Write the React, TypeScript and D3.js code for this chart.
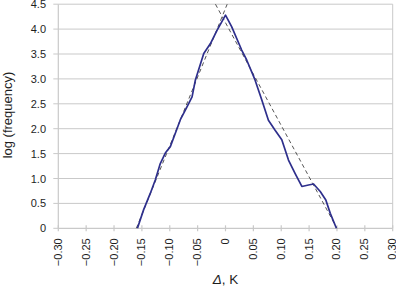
import { useEffect, useRef } from 'react';
import * as d3 from 'd3';

// measured curve: [delta (K), log frequency]
const curve: [number, number][] = [
  [-0.158, 0], [-0.147, 0.37], [-0.135, 0.70], [-0.126, 0.97], [-0.117, 1.30],
  [-0.108, 1.51], [-0.099, 1.64], [-0.090, 1.91], [-0.081, 2.18], [-0.070, 2.42],
  [-0.060, 2.64], [-0.054, 2.98], [-0.039, 3.51], [-0.027, 3.71], [-0.015, 3.98],
  [0, 4.28], [0.011, 4.05], [0.029, 3.58], [0.038, 3.38], [0.053, 2.98],
  [0.065, 2.58], [0.077, 2.17], [0.089, 1.97], [0.101, 1.78], [0.113, 1.37],
  [0.125, 1.10], [0.137, 0.84], [0.149, 0.87], [0.158, 0.89], [0.170, 0.74],
  [0.180, 0.57], [0.188, 0.30], [0.199, 0]
];
const fitLeft: [number, number][] = [[-0.16, 0], [0.003, 4.5]];
const fitRight: [number, number][] = [[-0.018, 4.5], [0.20, 0]];

const xTicks = [-0.3, -0.25, -0.2, -0.15, -0.1, -0.05, 0, 0.05, 0.1, 0.15, 0.2, 0.25, 0.3];
const yTicks = [0, 0.5, 1, 1.5, 2, 2.5, 3, 3.5, 4, 4.5];

const fmtX = (v: number) => (v === 0 ? '0' : (v < 0 ? '\u2212' : '') + Math.abs(v).toFixed(2));
const fmtY = (v: number) => (v === 0 ? '0' : v.toFixed(1));

export default function App() {
  const ref = useRef<SVGSVGElement>(null);

  useEffect(() => {
    const svg = d3.select(ref.current);
    svg.selectAll('*').remove();

    const left = 58.3, right = 392.7, top = 4.2, bottom = 228.3;
    const x = d3.scaleLinear().domain([-0.3, 0.3]).range([left, right]);
    const y = d3.scaleLinear().domain([0, 4.5]).range([bottom, top]);
    const font = 'Liberation Sans, Arial, sans-serif';
    const gridCol = '#c9c9c9';

    // horizontal gridlines
    svg.append('g').selectAll('line').data(yTicks.filter(d => d > 0)).enter().append('line')
      .attr('x1', left).attr('x2', right)
      .attr('y1', d => y(d)).attr('y2', d => y(d))
      .attr('stroke', gridCol).attr('stroke-width', 1);

    // y ticks
    svg.append('g').selectAll('line').data(yTicks).enter().append('line')
      .attr('x1', left - 5).attr('x2', left)
      .attr('y1', d => y(d)).attr('y2', d => y(d))
      .attr('stroke', gridCol).attr('stroke-width', 1);

    // left and right border lines
    svg.append('line').attr('x1', left).attr('x2', left).attr('y1', top).attr('y2', bottom)
      .attr('stroke', gridCol).attr('stroke-width', 1.2);
    svg.append('line').attr('x1', right).attr('x2', right).attr('y1', top).attr('y2', bottom)
      .attr('stroke', gridCol).attr('stroke-width', 1);

    // x axis line and ticks
    svg.append('line').attr('x1', left).attr('x2', right).attr('y1', bottom).attr('y2', bottom)
      .attr('stroke', gridCol).attr('stroke-width', 1.2);
    svg.append('g').selectAll('line').data(xTicks).enter().append('line')
      .attr('x1', d => x(d)).attr('x2', d => x(d))
      .attr('y1', bottom - 3).attr('y2', bottom + 3)
      .attr('stroke', gridCol).attr('stroke-width', 1.2);

    // y tick labels
    svg.append('g').selectAll('text').data(yTicks).enter().append('text')
      .attr('x', 46).attr('y', d => y(d) + 4)
      .attr('text-anchor', 'end')
      .style('font-family', font).style('font-size', '11px').style('fill', '#1e1e1e')
      .text(fmtY);

    // x tick labels (rotated)
    svg.append('g').selectAll('text').data(xTicks).enter().append('text')
      .attr('transform', d => `translate(${x(d) + 3.5},${bottom + 10}) rotate(-90)`)
      .attr('text-anchor', 'end')
      .style('font-family', font).style('font-size', '11px').style('fill', '#1e1e1e')
      .text(fmtX);

    // axis titles
    svg.append('text')
      .attr('transform', `translate(12,${(68 + 162) / 2}) rotate(-90)`)
      .attr('text-anchor', 'middle')
      .style('font-family', font).style('font-size', '13px').style('fill', '#1e1e1e')
      .text('log (frequency)');

    const xt = svg.append('text')
      .attr('x', x(0)).attr('y', 284)
      .attr('text-anchor', 'middle')
      .style('font-family', font).style('font-size', '13.5px').style('fill', '#1e1e1e');
    xt.append('tspan').style('font-style', 'italic').text('\u0394');
    xt.append('tspan').text(', K');

    const line = d3.line<[number, number]>().x(d => x(d[0])).y(d => y(d[1]));

    // fitted dashed lines
    [fitLeft, fitRight].forEach(seg => {
      svg.append('path').datum(seg).attr('d', line)
        .attr('fill', 'none').attr('stroke', '#555')
        .attr('stroke-width', 1).attr('stroke-dasharray', '4,3');
    });

    // measured curve
    svg.append('path').datum(curve).attr('d', line)
      .attr('fill', 'none').attr('stroke', '#2e2f8c')
      .attr('stroke-width', 1.7).attr('stroke-linejoin', 'round');
  }, []);

  return (
    <svg ref={ref} width={396} height={290}
      style={{ position: 'absolute', left: 0, top: 0, background: '#fff' }} />
  );
}
